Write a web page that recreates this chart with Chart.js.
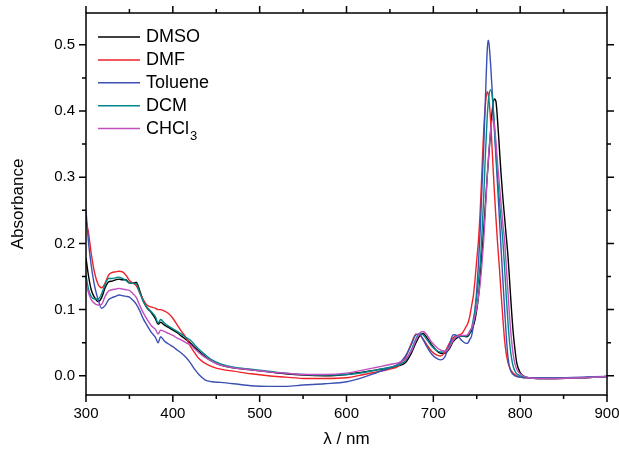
<!DOCTYPE html>
<html><head><meta charset="utf-8">
<script src="https://cdn.jsdelivr.net/npm/chart.js@4/dist/chart.umd.min.js"></script>
<style>html,body{margin:0;padding:0;background:#fff;}canvas{display:block;}</style>
</head><body>
<canvas id="c" width="619" height="454"></canvas>
<script>
const wavelengths = [300,303,306,310,314,318,322,326,330,334,338,342,346,350,354,358,362,366,370,375,
380,383,386,390,395,400,405,410,415,420,425,430,437,445,455,470,490,510,530,550,
575,600,620,635,650,660,668,675,680,684,688,693,698,703,708,713,718,723,728,733,
738,740,742,744,746,748,750,752,754,756,758,760,762,763,764,766,768,770,772,774,
776,778,780,782,784,786,788,790,792,794,796,800,805,810,820,840,870,900];

const dmso = [0.178,0.15,0.13,0.118,0.112,0.118,0.133,0.142,0.143,0.145,
0.146,0.145,0.145,0.14,0.14,0.141,0.128,0.113,0.103,0.096,
0.086,0.078,0.081,0.077,0.073,0.069,0.065,0.06,0.055,0.05,
0.043,0.037,0.029,0.022,0.016,0.012,0.009,0.006,0.003,0.001,
0.0,0.002,0.006,0.009,0.012,0.015,0.02,0.035,0.05,0.06,
0.064,0.057,0.047,0.039,0.034,0.034,0.04,0.052,0.058,0.06,
0.059,0.06,0.064,0.068,0.075,0.085,0.1,0.12,0.15,0.185,
0.22,0.26,0.3,0.318,0.335,0.37,0.402,0.418,0.415,0.385,
0.345,0.305,0.27,0.24,0.21,0.18,0.14,0.1,0.065,0.04,
0.02,0.005,-0.001,-0.003,-0.004,-0.004,-0.003,-0.001];

const dmf = [0.235,0.215,0.185,0.155,0.138,0.133,0.14,0.152,0.156,0.157,
0.158,0.157,0.152,0.144,0.14,0.136,0.125,0.115,0.107,0.104,
0.102,0.1,0.1,0.098,0.094,0.087,0.077,0.067,0.058,0.045,
0.035,0.026,0.019,0.014,0.01,0.007,0.003,0.0,-0.002,-0.004,
-0.004,-0.003,0.002,0.006,0.01,0.015,0.028,0.05,0.063,0.062,
0.056,0.046,0.037,0.032,0.03,0.035,0.048,0.058,0.061,0.064,
0.075,0.08,0.09,0.105,0.12,0.145,0.175,0.205,0.25,0.31,
0.37,0.41,0.429,0.427,0.418,0.385,0.335,0.285,0.24,0.2,
0.165,0.125,0.088,0.055,0.033,0.02,0.012,0.007,0.004,0.002,
0.0,-0.002,-0.003,-0.003,-0.004,-0.004,-0.003,-0.001];

const toluene = [0.25,0.2,0.167,0.135,0.115,0.102,0.106,0.115,0.118,0.12,
0.122,0.121,0.12,0.119,0.114,0.108,0.098,0.086,0.077,0.066,
0.058,0.05,0.059,0.053,0.048,0.044,0.039,0.034,0.028,0.02,
0.01,0.002,-0.006,-0.009,-0.01,-0.012,-0.015,-0.016,-0.016,-0.014,
-0.012,-0.009,-0.002,0.005,0.012,0.018,0.03,0.048,0.062,0.063,
0.055,0.043,0.033,0.027,0.024,0.028,0.045,0.062,0.06,0.053,
0.049,0.05,0.055,0.06,0.075,0.1,0.13,0.17,0.22,0.285,
0.345,0.42,0.49,0.507,0.503,0.47,0.425,0.378,0.332,0.287,
0.24,0.192,0.147,0.102,0.06,0.028,0.012,0.005,0.002,0.0,
-0.001,-0.002,-0.003,-0.003,-0.003,-0.003,-0.002,-0.001];

const dcm = [0.152,0.13,0.12,0.116,0.116,0.124,0.138,0.147,0.147,0.148,
0.149,0.147,0.144,0.14,0.14,0.139,0.125,0.112,0.104,0.097,
0.089,0.08,0.085,0.08,0.075,0.071,0.067,0.063,0.058,0.054,
0.047,0.04,0.032,0.024,0.018,0.013,0.01,0.007,0.004,0.002,
0.001,0.002,0.005,0.009,0.013,0.016,0.023,0.04,0.056,0.064,
0.062,0.054,0.045,0.039,0.036,0.037,0.043,0.055,0.06,0.06,
0.06,0.062,0.065,0.072,0.085,0.1,0.12,0.145,0.17,0.215,
0.27,0.335,0.39,0.41,0.423,0.432,0.42,0.385,0.34,0.3,
0.265,0.235,0.205,0.165,0.12,0.08,0.048,0.027,0.014,0.007,
0.003,0.0,-0.002,-0.003,-0.004,-0.004,-0.003,-0.001];

const chcl3 = [0.14,0.125,0.115,0.109,0.107,0.108,0.12,0.128,0.13,0.131,
0.132,0.131,0.13,0.129,0.124,0.118,0.106,0.095,0.086,0.076,
0.07,0.063,0.069,0.067,0.064,0.061,0.057,0.054,0.05,0.047,
0.041,0.035,0.028,0.022,0.016,0.012,0.009,0.006,0.004,0.002,
0.002,0.004,0.009,0.013,0.017,0.02,0.025,0.038,0.054,0.064,
0.067,0.061,0.051,0.044,0.039,0.037,0.042,0.054,0.06,0.061,
0.061,0.063,0.068,0.072,0.08,0.09,0.103,0.12,0.14,0.17,
0.205,0.25,0.3,0.32,0.34,0.37,0.388,0.382,0.355,0.32,
0.29,0.26,0.23,0.205,0.165,0.125,0.085,0.055,0.032,0.018,
0.01,0.003,-0.001,-0.003,-0.004,-0.004,-0.003,-0.001];

const seriesNames = ['DMSO','DMF','Toluene','DCM','CHCl\u2083'];
const legendMain = ['DMSO','DMF','Toluene','DCM','CHCl'];
const legendSub = ['','','','','3'];
const seriesColors = ['#000000','#ee2228','#3c50b4','#00878a','#c24fbf'];
const xTicks = [300,400,500,600,700,800,900];
const yTicks = [0.0,0.1,0.2,0.3,0.4,0.5];
const FONT = '"Liberation Sans", Arial, Helvetica, sans-serif';

const allSeries = [dmso, dmf, toluene, dcm, chcl3];
const datasets = allSeries.map((vals, i) => ({
  label: seriesNames[i],
  data: wavelengths.map((w, k) => ({x: w, y: vals[k]})),
  borderColor: seriesColors[i],
  backgroundColor: seriesColors[i],
  borderWidth: 1.4,
  pointRadius: 0,
  fill: false,
  cubicInterpolationMode: 'monotone',
  order: 4 - i
}));

const framePlugin = {
  id: 'frameTicks',
  afterDraw(chart) {
    const {ctx, chartArea: a, scales: {x, y}} = chart;
    ctx.save();
    ctx.strokeStyle = '#000';
    ctx.lineWidth = 1.5;
    ctx.strokeRect(a.left, a.top, a.right - a.left, a.bottom - a.top);
    ctx.beginPath();
    for (let v = xTicks[0]; v <= xTicks[xTicks.length - 1]; v += 50) {
      const px = x.getPixelForValue(v);
      const L = (v % 100 === 0) ? 7 : 4;
      ctx.moveTo(px, a.bottom); ctx.lineTo(px, a.bottom + L);
      ctx.moveTo(px, a.top); ctx.lineTo(px, a.top - L);
    }
    for (let k = 0; k <= 20; k++) {
      const v = k * 0.05;
      if (v > y.max) break;
      const py = y.getPixelForValue(v);
      const L = (k % 2 === 0) ? 7 : 4;
      ctx.moveTo(a.left, py); ctx.lineTo(a.left - L, py);
      ctx.moveTo(a.right, py); ctx.lineTo(a.right + L, py);
    }
    ctx.stroke();
    ctx.restore();
  }
};

const legendPlugin = {
  id: 'customLegend',
  afterDraw(chart) {
    const ctx = chart.ctx;
    ctx.save();
    ctx.textBaseline = 'middle';
    ctx.textAlign = 'left';
    legendMain.forEach((name, i) => {
      const yy = 37 + i * 22.9;
      ctx.strokeStyle = seriesColors[i];
      ctx.lineWidth = 1.5;
      ctx.beginPath(); ctx.moveTo(98, yy); ctx.lineTo(140, yy); ctx.stroke();
      ctx.fillStyle = '#000';
      ctx.font = '18px ' + FONT;
      ctx.fillText(name, 146, yy);
      if (legendSub[i]) {
        const w = ctx.measureText(name).width;
        ctx.font = '13px ' + FONT;
        ctx.fillText(legendSub[i], 146 + w + 1, yy + 8);
      }
    });
    ctx.restore();
  }
};

new Chart(document.getElementById('c'), {
  type: 'line',
  data: {datasets},
  options: {
    responsive: false,
    animation: false,
    devicePixelRatio: 1,
    layout: {autoPadding: false, padding: {top: 13, right: 12, left: 0, bottom: 0}},
    plugins: {legend: {display: false}, tooltip: {enabled: false}},
    scales: {
      x: {
        type: 'linear', min: 300, max: 900,
        grid: {display: false, drawTicks: false},
        border: {display: false},
        afterBuildTicks: s => { s.ticks = xTicks.map(v => ({value: v})); },
        afterFit: s => { s.height = 59; s.paddingLeft = 0; s.paddingRight = 0; },
        ticks: {color: '#000', font: {family: FONT, size: 15}, padding: 10, maxRotation: 0, autoSkip: false,
                callback: v => String(v)},
        title: {display: true, text: '\u03bb / nm', color: '#000', font: {family: FONT, size: 17}, padding: {top: 0, bottom: 4}}
      },
      y: {
        type: 'linear', min: -0.029, max: 0.548,
        grid: {display: false, drawTicks: false},
        border: {display: false},
        afterBuildTicks: s => { s.ticks = yTicks.map(v => ({value: v})); },
        afterFit: s => { s.width = 86; s.paddingTop = 0; s.paddingBottom = 0; },
        ticks: {color: '#000', font: {family: FONT, size: 15}, padding: 11, autoSkip: false,
                callback: v => Number(v).toFixed(1)},
        title: {display: true, text: 'Absorbance', color: '#000', font: {family: FONT, size: 17}, padding: {top: 8, bottom: 0}}
      }
    }
  },
  plugins: [framePlugin, legendPlugin]
});
</script>
</body></html>
